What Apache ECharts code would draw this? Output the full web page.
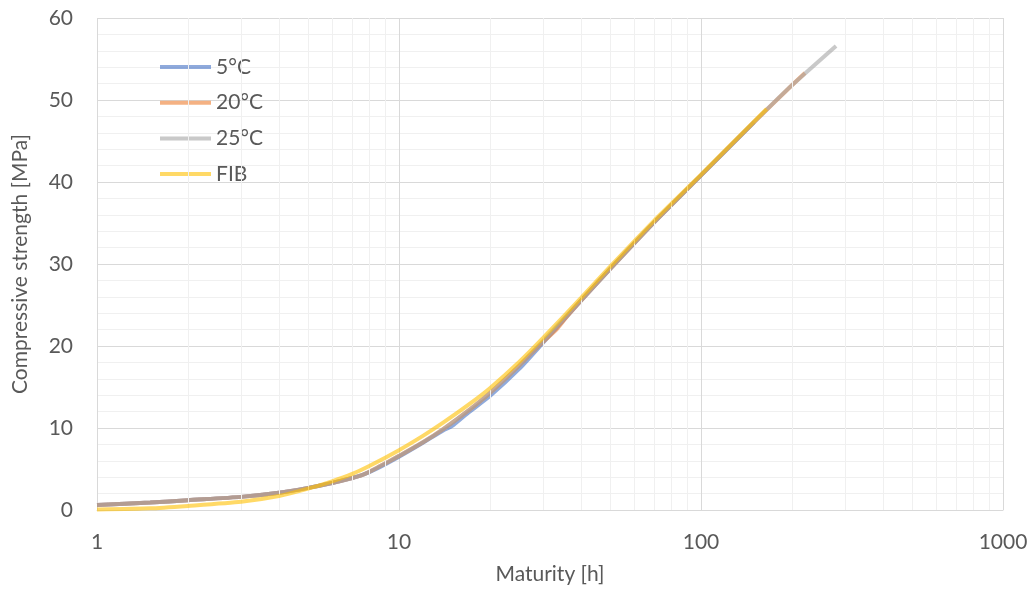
<!DOCTYPE html>
<html>
<head>
<meta charset="utf-8">
<script src="https://cdn.jsdelivr.net/npm/echarts@6/dist/echarts.min.js"></script>
<style>
html,body{margin:0;padding:0;background:#fff;}
#chart{width:1031px;height:590px;}
</style>
</head>
<body>
<div id="chart"></div>
<script>
// ---- data ----
const seriesNames = ['5°C', '20°C', '25°C', 'FIB'];

const x5C = [1, 1.5, 2, 3, 4, 5, 6, 7, 7.6, 8.5, 10, 12, 14, 15, 17, 20, 25, 30, 40, 50, 70, 100, 150];
const y5C = [0.6, 0.9, 1.2, 1.6, 2.1, 2.7, 3.3, 3.9, 4.3, 5.1, 6.5, 8.2, 9.7, 10.25, 11.9, 13.9, 17.2, 20.4, 25.5, 29.4, 35.1, 40.8, 47.3];

const x20C = [1, 1.5, 2, 3, 4, 5, 6, 7, 7.6, 8.5, 10, 12, 14, 17, 20, 25, 30, 33, 36, 40, 50, 70, 100, 150, 200, 221];
const y20C = [0.6, 0.9, 1.2, 1.6, 2.1, 2.7, 3.3, 3.9, 4.3, 5.2, 6.6, 8.26, 9.87, 12.15, 14.27, 17.61, 20.5, 21.9, 23.6, 25.5, 29.38, 35.08, 40.81, 47.32, 51.8, 53.3];

const x25C = [1, 1.5, 2, 3, 4, 5, 6, 7, 7.6, 8.5, 10, 12, 14, 17, 20, 25, 30, 40, 50, 70, 100, 150, 200, 280];
const y25C = [0.6, 0.9, 1.2, 1.6, 2.1, 2.7, 3.3, 3.9, 4.3, 5.2, 6.6, 8.26, 9.87, 12.15, 14.27, 17.61, 20.62, 25.55, 29.38, 35.08, 40.81, 47.32, 51.8, 56.6];

const xFIB = [1, 1.5, 2, 3, 4, 5, 6, 7, 8, 10, 12, 14, 17, 20, 25, 30, 40, 50, 70, 100, 150, 165];
const yFIB = [0.05, 0.2, 0.5, 1.0, 1.7, 2.6, 3.5, 4.4, 5.4, 7.3, 9.04, 10.65, 12.84, 14.85, 18.05, 20.98, 25.85, 29.68, 35.3, 40.9, 47.4, 48.9];

const xMinorTicks = [2, 3, 4, 5, 6, 7, 8, 9, 20, 30, 40, 50, 60, 70, 80, 90, 200, 300, 400, 500, 600, 700, 800, 900];
const yTicks = [0, 10, 20, 30, 40, 50, 60];

// ---- styling ----
const colors = ['rgba(68,114,196,0.6)', 'rgba(237,125,49,0.6)', 'rgba(165,165,165,0.6)', 'rgba(255,192,0,0.6)'];
const FONT = 'Lato, "Open Sans", sans-serif';
const TXT = '#595959';

function pairs(xs, ys) { return xs.map((x, i) => [x, ys[i]]); }
const allData = [pairs(x5C, y5C), pairs(x20C, y20C), pairs(x25C, y25C), pairs(xFIB, yFIB)];

const chart = echarts.init(document.getElementById('chart'), null, {renderer: 'canvas'});

const series = [{
  name: '_grid',
  type: 'line',
  data: [[1, 0]],
  showSymbol: false,
  symbol: 'none',
  lineStyle: {opacity: 0},
  silent: true,
  z: 1,
  markLine: {
    silent: true,
    symbol: ['none', 'none'],
    label: {show: false},
    lineStyle: {type: 'solid', color: '#f0f0f0', width: 1},
    animation: false,
    data: xMinorTicks.map(v => ({xAxis: v}))
  }
}];
seriesNames.forEach((n, i) => {
  series.push({
    name: n,
    type: 'line',
    data: allData[i],
    showSymbol: false,
    symbol: 'none',
    smooth: 0.2,
    lineStyle: {width: 4, color: colors[i], cap: 'butt'},
    itemStyle: {color: colors[i]},
    z: 2 + i
  });
});

chart.setOption({
  animation: false,
  backgroundColor: '#fff',
  textStyle: {fontFamily: FONT},
  grid: {left: 97, right: 28, top: 18, bottom: 76, containLabel: false},
  legend: {
    data: seriesNames,
    orient: 'vertical',
    left: 160,
    top: 56,
    padding: 0,
    icon: 'rect',
    itemWidth: 51,
    itemHeight: 4,
    itemGap: 13.7,
    textStyle: {color: TXT, fontSize: 21, lineHeight: 22, fontFamily: FONT}
  },
  xAxis: {
    type: 'log',
    logBase: 10,
    min: 1,
    max: 1000,
    name: 'Maturity [h]',
    nameLocation: 'middle',
    nameGap: 54,
    nameTextStyle: {color: TXT, fontSize: 21, fontFamily: FONT},
    axisLine: {show: true, lineStyle: {color: '#d9d9d9', width: 1}},
    axisTick: {show: false},
    axisLabel: {color: TXT, fontSize: 21, margin: 22, fontFamily: FONT, formatter: v => String(v)},
    splitLine: {show: true, lineStyle: {color: '#d9d9d9', width: 1}}
  },
  yAxis: {
    type: 'value',
    min: 0,
    max: 60,
    interval: 10,
    name: 'Compressive strength [MPa]',
    nameLocation: 'middle',
    nameGap: 66,
    nameTextStyle: {color: TXT, fontSize: 21, fontFamily: FONT},
    axisLine: {show: false},
    axisTick: {show: false},
    axisLabel: {color: TXT, fontSize: 21, margin: 24, fontFamily: FONT,
      formatter: v => (yTicks.indexOf(v) >= 0 ? String(v) : '')},
    splitLine: {show: true, lineStyle: {color: '#d9d9d9', width: 1}},
    minorTick: {show: false, splitNumber: 5},
    minorSplitLine: {show: true, lineStyle: {color: '#f0f0f0', width: 1}}
  },
  series: series
});
</script>
</body>
</html>
